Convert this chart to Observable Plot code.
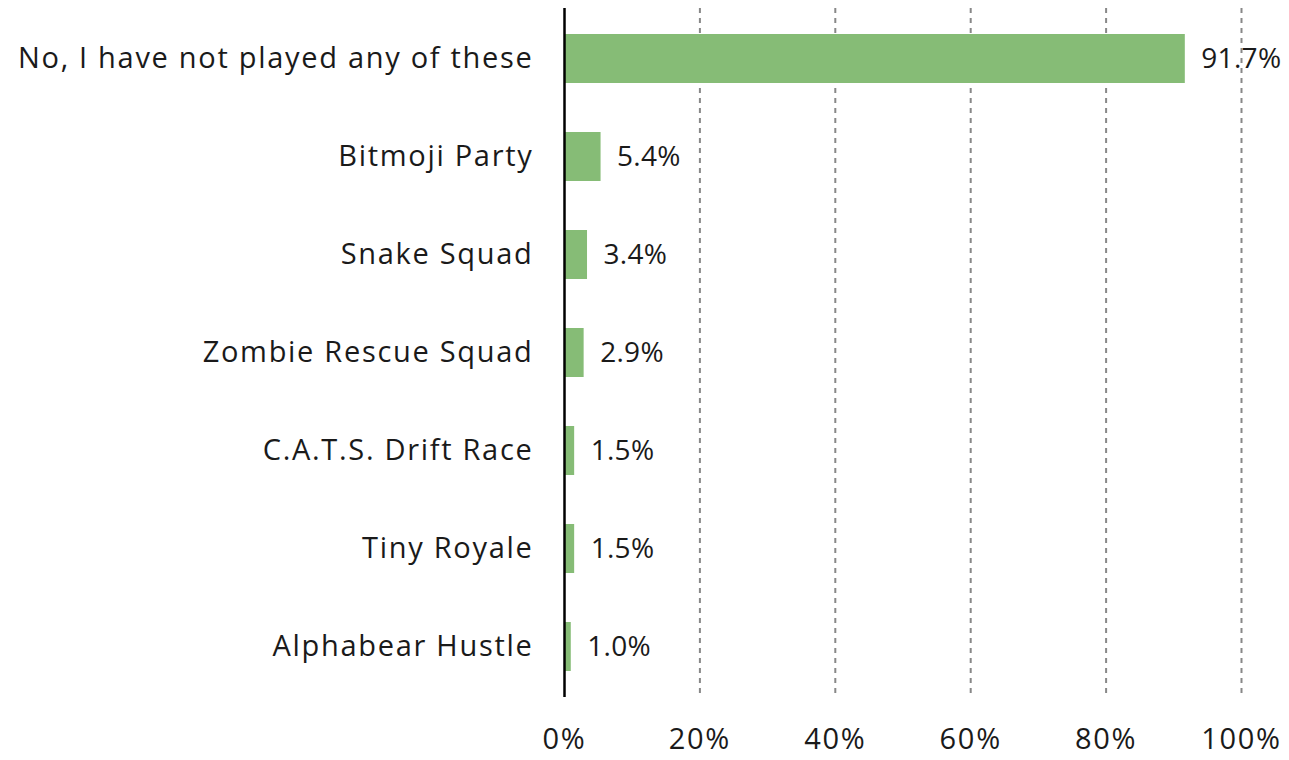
<!DOCTYPE html>
<html>
<head>
<meta charset="utf-8">
<script src="https://cdn.jsdelivr.net/npm/d3@7"></script>
<script src="https://cdn.jsdelivr.net/npm/@observablehq/plot@0.6"></script>
<style>
  html, body { margin: 0; padding: 0; background: #fff; }
  #chart { width: 1289px; height: 760px; }
</style>
</head>
<body>
<div id="chart"></div>
<script>
const categories = [
  "No, I have not played any of these",
  "Bitmoji Party",
  "Snake Squad",
  "Zombie Rescue Squad",
  "C.A.T.S. Drift Race",
  "Tiny Royale",
  "Alphabear Hustle"
];
const values = [91.7, 5.4, 3.4, 2.9, 1.5, 1.5, 1.0];
const labels = ["91.7%", "5.4%", "3.4%", "2.9%", "1.5%", "1.5%", "1.0%"];
const xTicks = [0, 20, 40, 60, 80, 100];
const gridTicks = [20, 40, 60, 80, 100];

const data = categories.map((c, i) => ({category: c, value: values[i], label: labels[i]}));

const chart = Plot.plot({
  width: 1289,
  height: 760,
  marginLeft: 564,
  marginRight: 48,
  marginTop: 8,
  marginBottom: 63,
  style: {fontSize: "29px", fontFamily: "'Open Sans', Lato, sans-serif", color: "#1a1a1a", letterSpacing: "1.7px"},
  x: {domain: [0, 100], ticks: xTicks, tickFormat: d => d + "%", tickSize: 0, tickPadding: 31, label: null},
  y: {domain: categories, paddingInner: 0.5, paddingOuter: 0.25, tickSize: 0, tickPadding: 31, label: null},
  marks: [
    Plot.gridX(gridTicks, {stroke: "#888", strokeOpacity: 1, strokeWidth: 2, strokeDasharray: "5,5"}),
    Plot.barX(data, {x: "value", y: "category", fill: "#86bc76"}),
    Plot.ruleX([0], {stroke: "#000", strokeWidth: 2.5}),
    Plot.text(data, {x: "value", y: "category", text: "label", textAnchor: "start", dx: 16, fontSize: 28, fill: "#1a1a1a"})
  ]
});
d3.select(chart).selectAll('g[aria-label="text"] text').style("letter-spacing", "0.3px");
document.getElementById("chart").appendChild(chart);
</script>
</body>
</html>
